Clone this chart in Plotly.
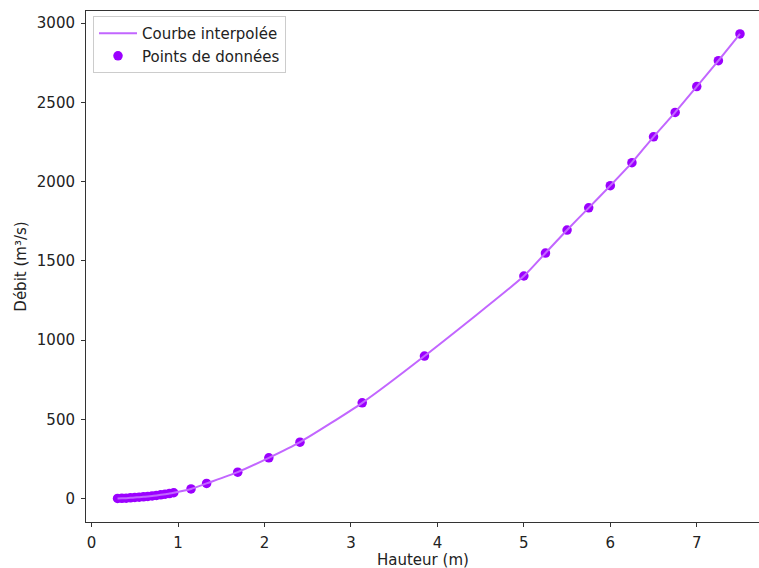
import plotly.graph_objects as go

# Hauteur d'eau (m) et débit mesuré (m³/s)
hauteur = [0.30, 0.35, 0.40, 0.45, 0.50, 0.55, 0.60, 0.65, 0.70, 0.75, 0.80,
           0.85, 0.90, 0.95, 1.15, 1.33, 1.69, 2.05, 2.41, 3.13, 3.85,
           5.00, 5.25, 5.50, 5.75, 6.00, 6.25, 6.50, 6.75, 7.00, 7.25, 7.50]
debit = [2, 3, 4, 6, 8, 10, 12, 15, 18, 21, 25,
         29, 33, 38, 62, 97, 168, 258, 357, 605, 900,
         1405, 1550, 1695, 1835, 1975, 2120, 2283, 2437, 2600, 2763, 2932]

x_ticks = [0, 1, 2, 3, 4, 5, 6, 7]
y_ticks = [0, 500, 1000, 1500, 2000, 2500, 3000]

point_color = "#9b00ff"
curve_color = "#c266ff"
font = dict(family="DejaVu Sans", size=15, color="#222222")

fig = go.Figure()

fig.add_trace(go.Scatter(
    x=hauteur, y=debit, mode="markers", name="Points de données",
    marker=dict(color=point_color, size=9.5, line=dict(width=0)),
    legendrank=2,
))

fig.add_trace(go.Scatter(
    x=hauteur, y=debit, mode="lines", name="Courbe interpolée",
    line=dict(color=curve_color, width=2, shape="spline", smoothing=0.6),
    legendrank=1,
))

axis_common = dict(
    showgrid=False, zeroline=False, showline=True, linecolor="#333333",
    linewidth=1, ticks="outside", ticklen=4, tickcolor="#333333",
    tickfont=font, ticklabelstandoff=3, automargin=False,
)

fig.update_xaxes(**axis_common, range=[-0.065, 7.72], tickvals=x_ticks, mirror=True)
fig.update_yaxes(
    **axis_common, range=[-146.5, 3076.5], tickvals=y_ticks,
    title=dict(text="Débit (m³/s)", font=font, standoff=6),
)

# x-axis title placed just below the tick labels
fig.add_annotation(
    text="Hauteur (m)", xref="paper", yref="paper", x=0.5, y=-0.074,
    xanchor="center", yanchor="middle", showarrow=False, font=font,
)

fig.update_layout(
    width=759, height=568,
    margin=dict(l=86, r=0, t=11, b=46),
    paper_bgcolor="white", plot_bgcolor="white",
    font=font,
    showlegend=True,
    legend=dict(
        x=0.0104, y=0.99, xanchor="left", yanchor="top",
        bgcolor="rgba(255,255,255,0.8)", bordercolor="#cccccc", borderwidth=1,
        font=font, tracegroupgap=4, itemwidth=38,
    ),
)

fig.write_html("out.html")
